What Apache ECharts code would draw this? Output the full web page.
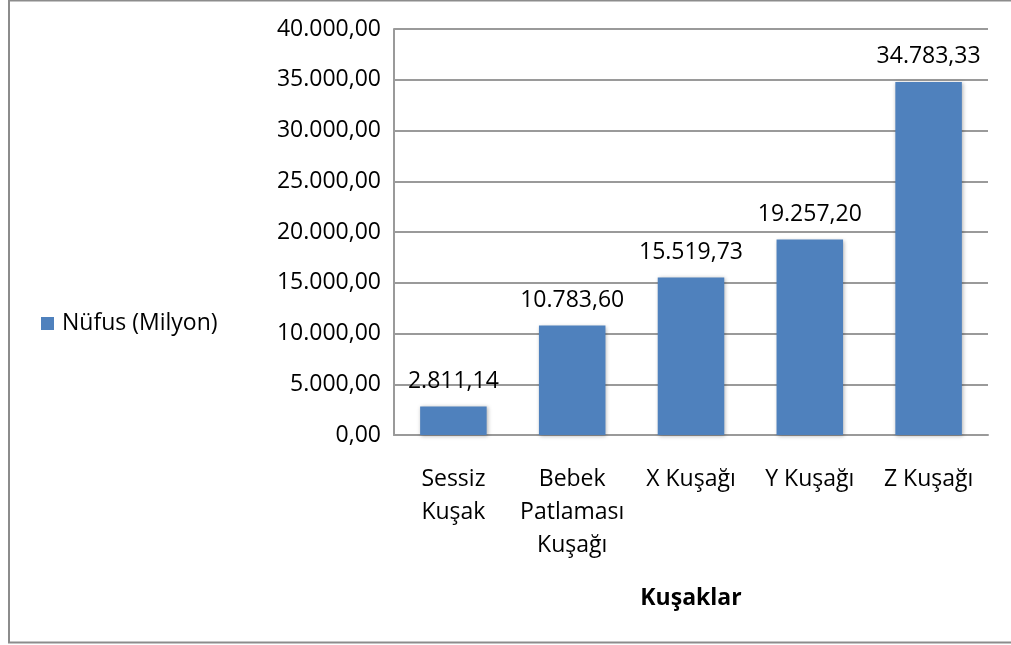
<!DOCTYPE html>
<html><head><meta charset="utf-8">
<script src="https://cdn.jsdelivr.net/npm/echarts@6/dist/echarts.min.js"></script>
<style>html,body{margin:0;padding:0;background:#fff}#c{width:1011px;height:645px}</style>
</head><body><div id="c"></div>
<script>
const categories = ['Sessiz\nKuşak', 'Bebek\nPatlaması\nKuşağı', 'X Kuşağı', 'Y Kuşağı', 'Z Kuşağı'];
const values = [2811.14, 10783.60, 15519.73, 19257.20, 34783.33];
const seriesName = 'Nüfus (Milyon)';
const axisTitle = 'Kuşaklar';

function trFmt(v) {
  const parts = v.toFixed(2).split('.');
  parts[0] = parts[0].replace(/\B(?=(\d{3})+(?!\d))/g, '.');
  return parts[0] + ',' + parts[1];
}
const font = '"Open Sans", "Noto Sans", sans-serif';
const chart = echarts.init(document.getElementById('c'));
chart.setOption({
  animation: false,
  textStyle: { fontFamily: font },
  graphic: [{
    type: 'rect', shape: { x: 9, y: 0.5, width: 1100, height: 642 },
    style: { fill: 'none', stroke: '#8c8c8c', lineWidth: 2 }, silent: true
  }],
  legend: {
    left: 36, top: 307, orient: 'vertical',
    itemWidth: 13, itemHeight: 13, itemGap: 8,
    icon: 'rect',
    textStyle: { fontSize: 23, color: '#000', fontFamily: font, padding: [0, 0, 0, 3] },
    data: [seriesName]
  },
  grid: { left: 394, right: 23, top: 29, bottom: 210, containLabel: false },
  xAxis: {
    type: 'category', data: categories,
    name: axisTitle, nameLocation: 'middle', nameGap: 152,
    nameTextStyle: { fontSize: 23, fontWeight: 'bold', color: '#000', fontFamily: font },
    axisLine: { show: true, lineStyle: { color: '#9a9a9a', width: 2 } },
    axisTick: { show: false },
    axisLabel: { fontSize: 23, color: '#000', lineHeight: 33, margin: 28, interval: 0, fontFamily: font }
  },
  yAxis: {
    type: 'value', min: 0, max: 40000, interval: 5000,
    axisLine: { show: true, lineStyle: { color: '#9a9a9a', width: 2 } },
    axisTick: { show: false },
    splitLine: { lineStyle: { color: '#9a9a9a', width: 2 } },
    axisLabel: { fontSize: 23, color: '#000', margin: 13, formatter: v => trFmt(v), fontFamily: font }
  },
  series: [{
    name: seriesName, type: 'bar', data: values,
    barCategoryGap: '44%',
    itemStyle: {
      color: '#4F81BD', shadowColor: 'rgba(0,0,0,0.3)', shadowBlur: 4, shadowOffsetX: 1, shadowOffsetY: 1,
      borderColor: '#ffffff', borderWidth: 0
    },
    label: { show: true, position: 'top', distance: 14, fontSize: 23, color: '#000', fontFamily: font, formatter: p => trFmt(p.value) }
  }]
});
</script></body></html>
